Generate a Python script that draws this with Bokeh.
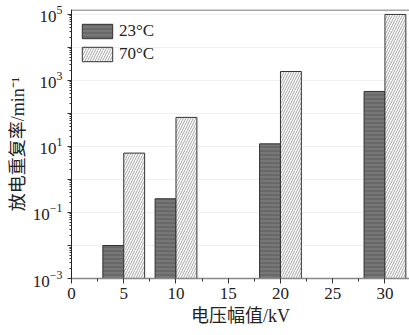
from bokeh.plotting import figure
from bokeh.models import (ColumnDataSource, FixedTicker, SingleIntervalTicker, Span, Range1d)
from bokeh.transform import dodge
from bokeh.embed import file_html
from bokeh.resources import INLINE

# data
voltages = [5, 10, 20, 30]
rate_23C = [0.01, 0.26, 12, 465]
rate_70C = [6.3, 76, 1870, 100000]
series_labels = ["23°C", "70°C"]
y_major = [1e-3, 1e-2, 1e-1, 1e0, 1e1, 1e2, 1e3, 1e4, 1e5]
y_hidden = [1e-2, 1e0, 1e2, 1e4]
x_label = "电压幅值/kV"
y_label = "放电重复率/min⁻¹"

y_start = 1e-3
y_end = 10 ** 5.15

src = ColumnDataSource(dict(v=voltages, a=rate_23C, b=rate_70C,
                            base=[y_start] * len(voltages)))

p = figure(width=409, height=335, y_axis_type="log",
           x_range=Range1d(0, 32.35), y_range=Range1d(y_start, y_end),
           output_backend="svg", toolbar_location=None,
           min_border_left=71, min_border_right=0, min_border_top=9, min_border_bottom=57)
p.outline_line_color = None
p.background_fill_color = "white"
p.border_fill_color = "white"

serif = "Liberation Serif, Noto Sans CJK SC"

p.vbar(x=dodge("v", -1, range=p.x_range), width=2, top="a", bottom="base", source=src,
       fill_color="#777777", hatch_pattern="horizontal_line", hatch_color="#5a5a5a",
       hatch_scale=4, hatch_weight=1, line_color="#333333", line_width=1,
       legend_label=series_labels[0])
p.vbar(x=dodge("v", 1, range=p.x_range), width=2, top="b", bottom="base", source=src,
       fill_color="white", hatch_pattern="right_diagonal_line", hatch_color="#8c8c8c",
       hatch_scale=5, hatch_weight=0.8, line_color="#333333", line_width=1,
       legend_label=series_labels[1])

# top frame line
p.add_layout(Span(location=10 ** 5.135, dimension="width", line_color="#888888", line_width=1.5))

# grids
p.xgrid.visible = False
p.ygrid.grid_line_color = "#f0f0f0"
p.ygrid.grid_line_width = 1

# y axis
minor = [m * d for d in y_major[:-1] for m in range(2, 10)]
p.yaxis.ticker = FixedTicker(ticks=y_major, minor_ticks=minor)
p.yaxis.major_label_overrides = {t: "" for t in y_hidden}
p.yaxis.major_tick_out = 4
p.yaxis.major_tick_in = 0
p.yaxis.minor_tick_out = 2
p.yaxis.minor_tick_in = 0
p.yaxis.axis_line_color = "#222222"
p.yaxis.major_tick_line_color = "#333333"
p.yaxis.minor_tick_line_color = "#333333"
p.yaxis.major_label_text_font = serif
p.yaxis.major_label_text_font_size = "17px"
p.yaxis.major_label_text_color = "#222222"
p.yaxis.major_label_standoff = 5
p.yaxis.axis_label = y_label
p.yaxis.axis_label_text_font = serif
p.yaxis.axis_label_text_font_size = "18px"
p.yaxis.axis_label_text_font_style = "normal"
p.yaxis.axis_label_text_color = "#222222"
p.yaxis.axis_label_standoff = 2

# x axis
p.xaxis.ticker = SingleIntervalTicker(interval=5, num_minor_ticks=2)
p.xaxis.axis_line_color = "#888888"
p.xaxis.axis_line_width = 1.5
p.xaxis.major_tick_out = 5
p.xaxis.major_tick_in = 0
p.xaxis.minor_tick_out = 3
p.xaxis.minor_tick_in = 0
p.xaxis.major_tick_line_color = "#333333"
p.xaxis.minor_tick_line_color = "#333333"
p.xaxis.major_label_text_font = serif
p.xaxis.major_label_text_font_size = "17px"
p.xaxis.major_label_text_color = "#222222"
p.xaxis.major_label_standoff = 4
p.xaxis.axis_label = x_label
p.xaxis.axis_label_text_font = serif
p.xaxis.axis_label_text_font_size = "18px"
p.xaxis.axis_label_text_font_style = "normal"
p.xaxis.axis_label_text_color = "#222222"
p.xaxis.axis_label_standoff = 4

# legend
lg = p.legend[0]
lg.location = (7, 214)
lg.padding = 0
lg.margin = 0
lg.spacing = 3
lg.glyph_width = 38
lg.glyph_height = 18
lg.label_height = 18
lg.label_standoff = 3
lg.label_text_font = serif
lg.label_text_font_size = "17px"
lg.label_text_color = "#222222"
lg.border_line_color = None
lg.background_fill_alpha = 0

open("out.html", "w").write(file_html(p, INLINE))
